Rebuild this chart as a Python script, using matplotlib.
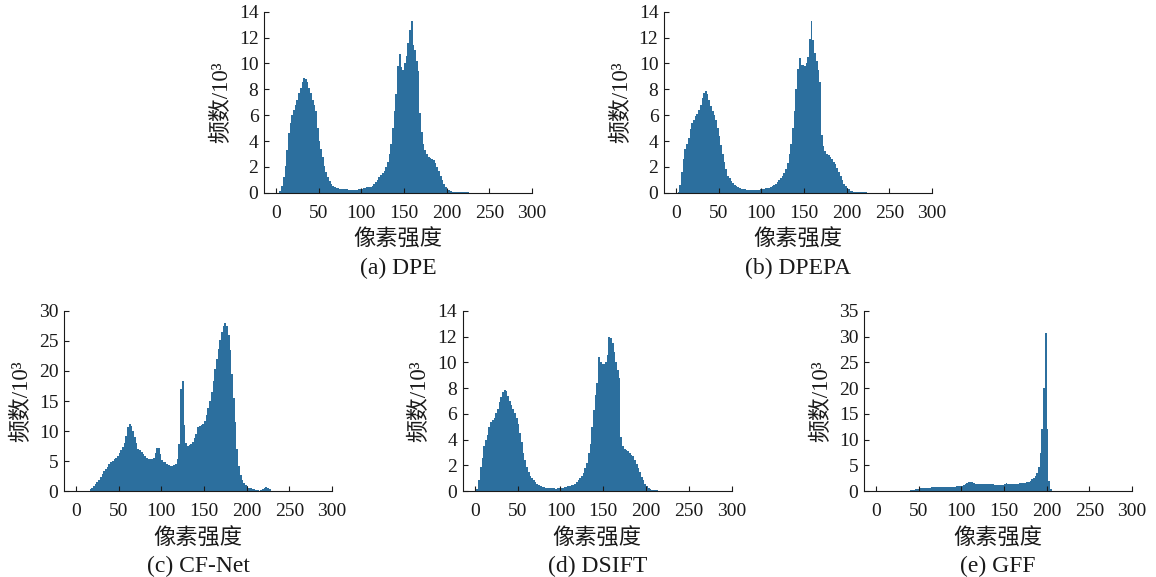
import numpy as np
import matplotlib.pyplot as plt

plt.rcParams['font.family'] = ['Liberation Serif', 'Noto Sans CJK SC']

# histogram bins: pixel intensity 0..256, width 2
bin_edges = np.arange(0, 258, 2)

# counts per bin, unit 10^3
dpe = [0, 0, 0.1, 0.5, 1.2, 2.1, 3.3, 4.6, 5.4, 6.0, 6.4, 6.8, 7.2, 7.7, 8.1, 8.6,
       8.9, 8.8, 8.6, 8.1, 7.7, 7.2, 6.8, 6.3, 5.0, 4.0, 3.4, 2.8, 2.1, 1.6, 1.2, 0.9,
       0.7, 0.55, 0.45, 0.38, 0.33, 0.3, 0.28, 0.27, 0.26, 0.25, 0.24, 0.22, 0.21, 0.2, 0.2, 0.22,
       0.25, 0.28, 0.32, 0.36, 0.4, 0.42, 0.45, 0.48, 0.55, 0.65, 0.8, 1.0, 1.2, 1.35, 1.5, 1.7,
       2.0, 2.4, 3.0, 3.8, 5.0, 6.3, 7.6, 9.8, 10.7, 9.7, 9.5, 10.0, 10.6, 11.6, 12.6, 13.3,
       11.4, 11.0, 10.2, 9.4, 6.2, 4.7, 3.8, 3.3, 3.0, 2.8, 2.7, 2.6, 2.5, 2.3, 2.0, 1.7,
       1.3, 0.95, 0.65, 0.45, 0.3, 0.2, 0.13, 0.09, 0.06, 0.05, 0.04, 0.03, 0.03, 0.02, 0.02, 0.02,
       0.02, 0.01, 0.01, 0, 0, 0, 0, 0, 0, 0, 0, 0, 0, 0, 0, 0]

dpepa = [0, 0.05, 0.6, 1.6, 2.6, 3.4, 3.8, 4.2, 4.9, 5.4, 5.6, 5.9, 6.1, 6.4, 6.8, 7.3,
         7.75, 7.85, 7.6, 7.2, 6.7, 6.3, 6.0, 5.6, 5.0, 4.4, 3.7, 3.0, 2.4, 1.8, 1.3, 1.1,
         0.9, 0.75, 0.6, 0.5, 0.42, 0.36, 0.32, 0.28, 0.25, 0.23, 0.21, 0.2, 0.2, 0.2, 0.2, 0.21,
         0.23, 0.25, 0.27, 0.3, 0.33, 0.37, 0.4, 0.45, 0.5, 0.58, 0.68, 0.8, 0.95, 1.1, 1.3, 1.5,
         1.8, 2.3, 3.0, 3.8, 5.0, 6.3, 8.0, 9.6, 10.4, 9.9, 9.9, 9.8, 10.0, 10.5, 11.9, 13.3,
         11.8, 10.8, 10.2, 9.5, 8.6, 4.5, 3.6, 3.2, 3.0, 2.9, 2.8, 2.6, 2.4, 2.2, 1.9, 1.6,
         1.3, 1.0, 0.7, 0.5, 0.35, 0.25, 0.17, 0.12, 0.08, 0.06, 0.05, 0.04, 0.03, 0.03, 0.02, 0.02,
         0.01, 0.01, 0, 0, 0, 0, 0, 0, 0, 0, 0, 0, 0, 0, 0, 0]

cfnet = [0, 0, 0, 0, 0, 0, 0, 0.05, 0.3, 0.55, 0.85, 1.15, 1.5, 1.9, 2.4, 2.9,
         3.3, 3.7, 4.1, 4.5, 4.8, 5.0, 5.3, 5.6, 5.9, 6.3, 6.8, 7.3, 8.0, 9.2, 10.6, 11.1,
         10.8, 10.0, 9.0, 8.0, 7.1, 6.8, 6.5, 6.2, 5.9, 5.6, 5.3, 5.3, 5.3, 5.5, 6.4, 7.2,
         7.2, 6.2, 5.2, 4.9, 4.8, 4.6, 4.4, 4.2, 4.2, 4.3, 4.6, 5.4, 7.8, 17.0, 18.3, 11.0,
         8.0, 7.6, 7.7, 7.9, 8.2, 8.8, 9.5, 10.7, 10.8, 11.0, 11.2, 11.6, 12.6, 13.8, 15.0, 16.5,
         18.4, 20.4, 22.0, 23.7, 25.2, 26.5, 27.4, 27.9, 27.4, 26.0, 23.5, 19.5, 15.5, 11.5, 7.0, 4.2,
         2.7, 1.9, 1.4, 1.05, 0.8, 0.6, 0.5, 0.4, 0.3, 0.2, 0.15, 0.1, 0.15, 0.3, 0.55, 0.7,
         0.5, 0.3, 0.1, 0.05, 0, 0, 0, 0, 0, 0, 0, 0, 0, 0, 0, 0]

dsift = [0, 0.2, 0.9, 1.9, 2.6, 3.5, 4.0, 4.4, 5.0, 5.4, 5.5, 5.7, 6.1, 6.4, 6.9, 7.3,
         7.7, 7.85, 7.8, 7.4, 7.0, 6.7, 6.4, 6.1, 5.7, 5.2, 4.5, 3.8, 3.0, 2.4, 1.9, 1.5,
         1.2, 1.0, 0.85, 0.7, 0.55, 0.46, 0.4, 0.34, 0.31, 0.29, 0.27, 0.26, 0.25, 0.23, 0.22, 0.21,
         0.22, 0.23, 0.25, 0.28, 0.3, 0.33, 0.37, 0.41, 0.46, 0.52, 0.6, 0.7, 0.85, 1.0, 1.2, 1.4,
         1.8, 2.2, 3.0, 3.7, 5.0, 6.3, 7.5, 8.4, 10.4, 10.0, 9.9, 9.9, 10.0, 10.6, 12.0, 11.9,
         11.5, 10.8, 10.0, 9.4, 8.8, 4.2, 3.5, 3.3, 3.2, 3.1, 3.0, 2.85, 2.7, 2.4, 2.1, 1.8,
         1.5, 1.1, 0.85, 0.6, 0.42, 0.28, 0.18, 0.12, 0.09, 0.07, 0.06, 0.05, 0.04, 0.04, 0.03, 0.02,
         0.02, 0.02, 0.02, 0.02, 0.02, 0.02, 0.02, 0.02, 0.02, 0.02, 0.02, 0.02, 0.02, 0.02, 0.02, 0]

gff = [0, 0, 0, 0, 0, 0, 0, 0, 0, 0, 0, 0, 0, 0, 0, 0,
       0, 0, 0.05, 0.1, 0.15, 0.2, 0.28, 0.35, 0.45, 0.55, 0.62, 0.66, 0.68, 0.7, 0.71, 0.72,
       0.74, 0.76, 0.77, 0.79, 0.8, 0.82, 0.84, 0.85, 0.87, 0.88, 0.9, 0.9, 0.91, 0.91, 0.92, 0.93,
       0.95, 0.97, 1.05, 1.2, 1.4, 1.6, 1.75, 1.85, 1.7, 1.55, 1.45, 1.42, 1.4, 1.4, 1.4, 1.4,
       1.4, 1.38, 1.36, 1.34, 1.32, 1.3, 1.28, 1.25, 1.2, 1.15, 1.3, 1.5, 1.6, 1.5, 1.42, 1.4,
       1.42, 1.45, 1.48, 1.5, 1.52, 1.55, 1.6, 1.65, 1.72, 1.85, 2.0, 2.3, 2.6, 3.0, 3.6, 4.8,
       7.5, 12.0, 20.0, 30.6, 12.0, 2.0, 0.4, 0.1, 0.03, 0, 0, 0, 0, 0, 0, 0,
       0, 0, 0, 0, 0, 0, 0, 0, 0, 0, 0, 0, 0, 0, 0, 0]

captions = ['(a) DPE', '(b) DPEPA', '(c) CF-Net', '(d) DSIFT', '(e) GFF']
series = [dpe, dpepa, cfnet, dsift, gff]
y_max = [14, 14, 30, 14, 35]
y_step = [2, 2, 5, 2, 5]

# axes rectangles in figure fraction
rects = [[0.2284, 0.6660, 0.2318, 0.3137],
         [0.5744, 0.6660, 0.2318, 0.3137],
         [0.0554, 0.1486, 0.2318, 0.3128],
         [0.4003, 0.1486, 0.2327, 0.3128],
         [0.7474, 0.1486, 0.2318, 0.3128]]

bar_color = '#2c6f9e'
ink = '#1a1a1a'

fig = plt.figure(figsize=(11.56, 5.77), dpi=100)

for cap, counts, ymax, ystep, rect in zip(captions, series, y_max, y_step, rects):
    ax = fig.add_axes(rect)
    ax.stairs(counts, bin_edges, fill=True, color=bar_color, linewidth=0)
    ax.set_xlim(-14, 300)
    ax.set_ylim(0, ymax)
    ax.set_xticks(np.arange(0, 301, 50))
    ax.set_yticks(np.arange(0, ymax + 1, ystep))
    for s in ['top', 'right']:
        ax.spines[s].set_visible(False)
    for s in ['left', 'bottom']:
        ax.spines[s].set_linewidth(0.8)
        ax.spines[s].set_color(ink)
    ax.tick_params(direction='in', length=3.5, width=0.8, color=ink,
                   labelsize=14, labelcolor=ink)
    ax.tick_params(axis='x', pad=8.5)
    ax.tick_params(axis='y', pad=4)
    ax.set_xlabel('像素强度', fontsize=16, color=ink, labelpad=6)
    ax.set_ylabel('频数/10³', fontsize=16.5, color=ink, labelpad=5)
    ax.annotate(cap, xy=(0.5, 0), xycoords='axes fraction',
                xytext=(0, -54.5), textcoords='offset points',
                ha='center', va='center', fontsize=17, color=ink)

fig.savefig('out.png', dpi=100)
